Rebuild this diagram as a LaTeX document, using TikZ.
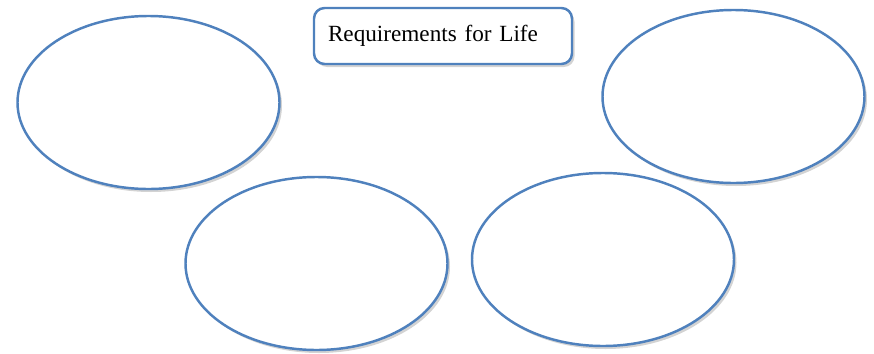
\documentclass[tikz,border=0pt]{standalone}
\usepackage{fontspec}
\setmainfont{Liberation Serif}
\usetikzlibrary{shapes.geometric,shadows}
\definecolor{officeblue}{RGB}{79,129,189}

\begin{document}
\begin{tikzpicture}
\tikzstyle{bubble} = [ellipse, draw=officeblue, line width=1.4pt, fill=white,
minimum width=5.24cm, minimum height=3.46cm, inner sep=0pt,
drop shadow={opacity=0.35, shadow xshift=0.05cm, shadow yshift=-0.06cm}]
\tikzstyle{title} = [rectangle, draw=officeblue, line width=1.4pt, fill=white,
rounded corners=6pt, minimum width=5.16cm, minimum height=1.12cm,
text width=4.6cm, align=left, font=\fontsize{13.2}{16}\selectfont,
drop shadow={opacity=0.35, shadow xshift=0.05cm, shadow yshift=-0.06cm}]
\useasboundingbox (0,0) rectangle (17.48,7.06);
% title
\node [title] (req) at (8.86,6.34) {Requirements for Life};
% empty bubbles
\node [bubble] (topleft) at (2.97,5.01) {};
\node [bubble] (topright) at (14.67,5.13) {};
\node [bubble] (botleft) at (6.33,1.79) {};
\node [bubble] (botright) at (12.06,1.87) {};
\end{tikzpicture}
\end{document}
